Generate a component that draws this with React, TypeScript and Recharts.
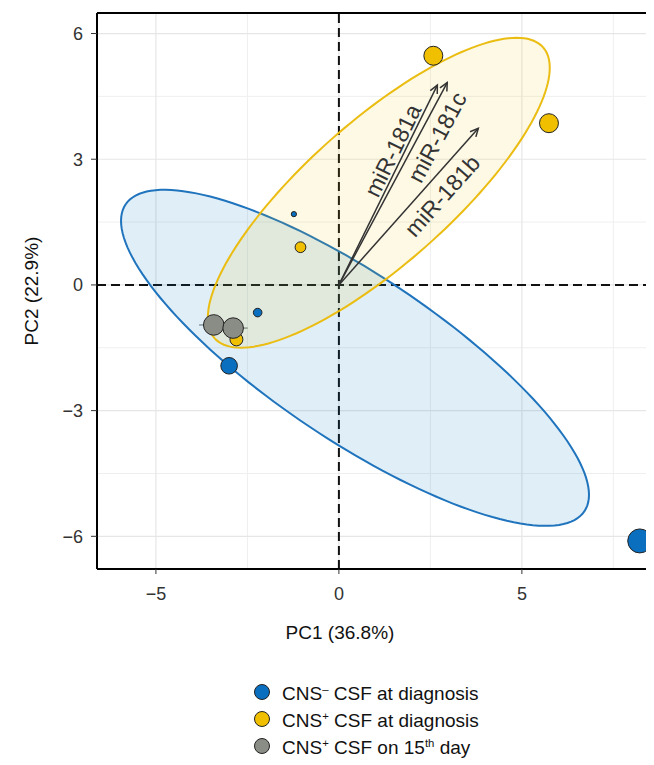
import React from "react";
import { ScatterChart, Scatter, XAxis, YAxis, ZAxis, ReferenceLine, ErrorBar, Label } from "recharts";

// axis ticks and grid
const xTicks = [-5, 0, 5];
const yTicks = [-6, -3, 0, 3, 6];
const xMinorGrid = [-2.5, 2.5, 7.5];
const yMinorGrid = [-4.5, -1.5, 1.5, 4.5];
const xDomain = [-6.61, 8.61];
const yDomain = [-6.78, 6.49];

// CNS- CSF at diagnosis
const cnsNegPC1 = [8.22, -3.0, -2.22, -1.23];
const cnsNegPC2 = [-6.11, -1.93, -0.66, 1.69];
const cnsNegContrib = [144, 69, 18.5, 6.8];

// CNS+ CSF at diagnosis
const cnsPosPC1 = [2.58, 5.74, -1.05, -2.8];
const cnsPosPC2 = [5.47, 3.86, 0.9, -1.3];
const cnsPosContrib = [90, 90, 29, 42];

// CNS+ CSF on 15th day
const day15PC1 = [-3.42, -2.89];
const day15PC2 = [-0.955, -1.03];
const day15Contrib = [106, 106];
const day15Err = [0.4, 0.4];

// variable loadings
const loadingNames = ["miR-181a", "miR-181c", "miR-181b"];
const loadingPC1 = [2.69, 2.96, 3.81];
const loadingPC2 = [4.77, 4.83, 3.74];

// confidence ellipses: centre and two conjugate semi-axes (data units)
const cnsNegEllipse = { center: [0.44, -1.74], axisU: [6.27, -3.66], axisV: [-1.25, -1.64] };
const cnsPosEllipse = { center: [1.09, 2.2], axisU: [4.49, 3.47], axisV: [1.29, -1.28] };

const BLUE = "#0b6fbf";
const YELLOW = "#f0c000";
const GRAY = "#8a8d86";

const toPoints = (xs: number[], ys: number[], zs: number[], ex?: number[]) =>
  xs.map((x, i) => ({ x, y: ys[i], contrib: zs[i], ex: ex ? ex[i] : 0 }));

const outline = (e: typeof cnsNegEllipse) => {
  const out: { x: number; y: number }[] = [];
  for (let i = 0; i <= 160; i++) {
    const t = (i / 160) * Math.PI * 2;
    out.push({
      x: e.center[0] + e.axisU[0] * Math.cos(t) + e.axisV[0] * Math.sin(t),
      y: e.center[1] + e.axisU[1] * Math.cos(t) + e.axisV[1] * Math.sin(t),
    });
  }
  return out;
};

const cnsNeg = toPoints(cnsNegPC1, cnsNegPC2, cnsNegContrib);
const cnsPos = toPoints(cnsPosPC1, cnsPosPC2, cnsPosContrib);
const day15 = toPoints(day15PC1, day15PC2, day15Contrib, day15Err);

const hidden = () => <g />;
const fmt = (v: number) => (v < 0 ? `\u2212${-v}` : `${v}`);

const ellipseLine = (stroke: string, fill: string) => (props: any) => {
  const pts = props.points as { x: number; y: number }[];
  const d = pts.map((p, i) => `${i ? "L" : "M"}${p.x.toFixed(2)},${p.y.toFixed(2)}`).join(" ") + " Z";
  return <path d={d} fill={fill} stroke={stroke} strokeWidth={2} />;
};

// label placement along each arrow: fraction of length, perpendicular offset (px, + = right side)
const labelPlace: Record<string, [number, number]> = {
  "miR-181a": [0.648, -11],
  "miR-181c": [0.769, 17],
  "miR-181b": [0.645, 18],
};

const arrowLine = (name: string) => (props: any) => {
  const [a, b] = props.points as { x: number; y: number }[];
  const dx = b.x - a.x;
  const dy = b.y - a.y;
  const len = Math.hypot(dx, dy);
  const ux = dx / len;
  const uy = dy / len;
  const ang = Math.atan2(dy, dx);
  const head = 9;
  const spread = Math.PI / 7;
  const h1x = b.x - head * Math.cos(ang - spread);
  const h1y = b.y - head * Math.sin(ang - spread);
  const h2x = b.x - head * Math.cos(ang + spread);
  const h2y = b.y - head * Math.sin(ang + spread);
  const [t, off] = labelPlace[name];
  const lx = a.x + ux * len * t - uy * off;
  const ly = a.y + uy * len * t + ux * off;
  return (
    <g>
      <line x1={a.x} y1={a.y} x2={b.x} y2={b.y} stroke="#333" strokeWidth={1.5} />
      <polyline points={`${h1x},${h1y} ${b.x},${b.y} ${h2x},${h2y}`} fill="none" stroke="#333" strokeWidth={1.5} />
      <text
        x={lx}
        y={ly}
        transform={`rotate(${(ang * 180) / Math.PI}, ${lx}, ${ly})`}
        textAnchor="middle"
        dominantBaseline="central"
        fontSize={23}
        fill="#333"
      >
        {name}
      </text>
    </g>
  );
};

const xLabel = (p: any) => {
  const vb = p.viewBox;
  return (
    <text x={vb.x + 243} y={vb.y + 63} textAnchor="middle" dominantBaseline="central" fontSize={19} fill="#111">
      PC1 (36.8%)
    </text>
  );
};

const yLabel = (p: any) => {
  const vb = p.viewBox;
  const x = vb.x + 23;
  const y = vb.y + vb.height / 2;
  return (
    <text x={x} y={y} transform={`rotate(-90, ${x}, ${y})`} textAnchor="middle" dominantBaseline="central" fontSize={19} fill="#111">
      PC2 (22.9%)
    </text>
  );
};

const dot = (color: string) => (
  <span
    style={{
      display: "inline-block",
      width: 16,
      height: 16,
      borderRadius: "50%",
      background: color,
      border: "1px solid #222",
      boxSizing: "border-box",
      marginRight: 12,
    }}
  />
);

const rowStyle = { display: "flex", alignItems: "center", height: 27 };

export default function App() {
  return (
    <div style={{ width: 646, fontFamily: "'Liberation Sans', Arial, sans-serif" }}>
      <ScatterChart width={646} height={650} margin={{ top: 5, right: 0, bottom: 29, left: 0 }}>
        <XAxis
          type="number"
          dataKey="x"
          domain={xDomain}
          ticks={xTicks}
          allowDataOverflow
          tickFormatter={fmt}
          tick={{ fill: "#333", fontSize: 18 }}
          tickSize={5}
          tickMargin={13}
          tickLine={{ stroke: "#333" }}
          axisLine={{ stroke: "#000", strokeWidth: 2 }}
          height={60}
        >
          <Label content={xLabel} />
        </XAxis>
        <YAxis
          type="number"
          dataKey="y"
          domain={yDomain}
          ticks={yTicks}
          allowDataOverflow
          tickFormatter={fmt}
          tick={{ fill: "#333", fontSize: 18 }}
          tickSize={6}
          tickMargin={8}
          tickLine={{ stroke: "#333" }}
          axisLine={{ stroke: "#000", strokeWidth: 2 }}
          width={89}
        >
          <Label content={yLabel} />
        </YAxis>
        <ZAxis type="number" dataKey="contrib" domain={[0, 144]} range={[0, 452]} />

        {xMinorGrid.map((v) => (
          <ReferenceLine key={`xm${v}`} x={v} stroke="#efefef" strokeWidth={1} />
        ))}
        {yMinorGrid.map((v) => (
          <ReferenceLine key={`ym${v}`} y={v} stroke="#efefef" strokeWidth={1} />
        ))}
        {xTicks.map((v) => (
          <ReferenceLine key={`x${v}`} x={v} stroke="#e6e6e6" strokeWidth={1.2} />
        ))}
        {yTicks.map((v) => (
          <ReferenceLine key={`y${v}`} y={v} stroke="#e6e6e6" strokeWidth={1.2} />
        ))}

        <Scatter
          data={outline(cnsNegEllipse)}
          shape={hidden}
          line={ellipseLine("#1f74bd", "rgba(0,114,189,0.12)")}
          isAnimationActive={false}
        />
        <Scatter
          data={outline(cnsPosEllipse)}
          shape={hidden}
          line={ellipseLine("#ebbd12", "rgba(239,192,0,0.1)")}
          isAnimationActive={false}
        />

        <ReferenceLine x={0} stroke="#111" strokeWidth={2} strokeDasharray="9 5" />
        <ReferenceLine y={0} stroke="#111" strokeWidth={2} strokeDasharray="9 5" />
        <ReferenceLine y={yDomain[1]} stroke="#000" strokeWidth={2} />

        {loadingNames.map((n, i) => (
          <Scatter
            key={n}
            data={[
              { x: 0, y: 0 },
              { x: loadingPC1[i], y: loadingPC2[i] },
            ]}
            shape={hidden}
            line={arrowLine(n)}
            isAnimationActive={false}
          />
        ))}

        <Scatter data={cnsNeg} fill={BLUE} stroke="#222" strokeWidth={1} isAnimationActive={false} />
        <Scatter data={cnsPos} fill={YELLOW} stroke="#222" strokeWidth={1} isAnimationActive={false} />
        <Scatter data={day15} fill={GRAY} stroke="#222" strokeWidth={1} isAnimationActive={false}>
          <ErrorBar dataKey="ex" direction="x" width={0} stroke="#999" strokeWidth={1.5} />
        </Scatter>
      </ScatterChart>

      <div style={{ marginTop: 20, marginLeft: 246, fontSize: 19, color: "#111", lineHeight: "27px" }}>
        <div style={rowStyle}>
          {dot(BLUE)}
          <span>
            CNS<sup style={{ fontSize: "0.6em" }}>–</sup> CSF at diagnosis
          </span>
        </div>
        <div style={rowStyle}>
          {dot(YELLOW)}
          <span>
            CNS<sup style={{ fontSize: "0.6em" }}>+</sup> CSF at diagnosis
          </span>
        </div>
        <div style={rowStyle}>
          {dot(GRAY)}
          <span>
            CNS<sup style={{ fontSize: "0.6em" }}>+</sup> CSF on 15<sup style={{ fontSize: "0.6em" }}>th</sup> day
          </span>
        </div>
      </div>
    </div>
  );
}
